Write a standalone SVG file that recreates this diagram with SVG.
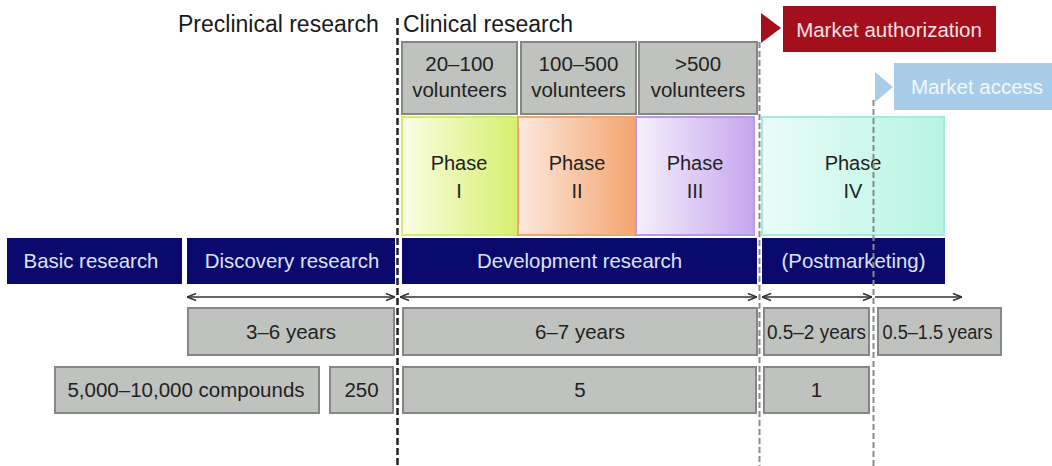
<svg xmlns="http://www.w3.org/2000/svg" width="1052" height="466" viewBox="0 0 1052 466">
  <style>
    text { font-family: "Liberation Sans", Arial, sans-serif; text-anchor: middle; }
    .head { font-size: 23px; fill: #1a1a1a; text-anchor: start; }
    .lbl { font-size: 20.5px; fill: #222; }
    .bar { fill: #0a0a6e; }
    .barText { font-size: 20.4px; fill: #dfe3f2; }
    .grey { fill: #c0c2bf; stroke: #858784; stroke-width: 2; }
    .phase { font-size: 20px; fill: #222; }
    .divBlack { stroke: #222; stroke-width: 2.5; stroke-dasharray: 7 3; fill: none; }
    .divGrey { stroke: #8a8a8a; stroke-width: 2; stroke-dasharray: 6 3; fill: none; }
    .span { stroke: #333; stroke-width: 1.5; fill: none; marker-start: url(#head); marker-end: url(#head); }
  </style>
  <defs>
    <marker id="head" viewBox="0 0 10 10" refX="10" refY="5" markerWidth="10" markerHeight="10" markerUnits="userSpaceOnUse" orient="auto-start-reverse">
      <path d="M1,1.5 L10,5 L1,8.5" fill="none" stroke="#333" stroke-width="1.4"/>
    </marker>
    <linearGradient id="gI" x1="0" x2="1" y1="0" y2="0">
      <stop offset="0" stop-color="#fbfde6"/>
      <stop offset="1" stop-color="#d6ef6c"/>
    </linearGradient>
    <linearGradient id="gII" x1="0" x2="1" y1="0" y2="0">
      <stop offset="0" stop-color="#fde9df"/>
      <stop offset="1" stop-color="#f3a46e"/>
    </linearGradient>
    <linearGradient id="gIII" x1="0" x2="1" y1="0" y2="0">
      <stop offset="0" stop-color="#f6f0fc"/>
      <stop offset="1" stop-color="#c6a6ee"/>
    </linearGradient>
    <linearGradient id="gIV" x1="0" x2="1" y1="0" y2="0">
      <stop offset="0" stop-color="#eafcf8"/>
      <stop offset="1" stop-color="#b7f4e3"/>
    </linearGradient>
  </defs>

  <!-- section headings -->
  <text class="head" x="178" y="32">Preclinical research</text>
  <text class="head" x="403" y="32">Clinical research</text>

  <!-- milestone flags -->
  <g id="market-authorization">
    <polygon points="761,13 781,28 761,43" fill="#a30f1d"/>
    <rect x="783" y="6" width="213" height="46" fill="#a30f1d"/>
    <text x="889" y="37" class="lbl" style="fill:#f6e3e3">Market authorization</text>
  </g>
  <g id="market-access">
    <polygon points="875,72 893,87 875,102" fill="#a9cde9"/>
    <rect x="894" y="63" width="158" height="47" fill="#a9cde9"/>
    <text x="977" y="94" class="lbl" style="fill:#f4f8fc">Market access</text>
  </g>

  <!-- volunteer counts -->
  <g id="vol-1">
    <rect class="grey" x="402" y="42" width="115" height="72"/>
    <text class="lbl" x="459.5" y="71">20–100</text>
    <text class="lbl" x="459.5" y="97">volunteers</text>
  </g>
  <g id="vol-2">
    <rect class="grey" x="521" y="42" width="115" height="72"/>
    <text class="lbl" x="578.5" y="71">100–500</text>
    <text class="lbl" x="578.5" y="97">volunteers</text>
  </g>
  <g id="vol-3">
    <rect class="grey" x="639" y="42" width="118" height="72"/>
    <text class="lbl" x="698" y="71">&gt;500</text>
    <text class="lbl" x="698" y="97">volunteers</text>
  </g>

  <!-- clinical phases -->
  <g id="phase-1">
    <rect x="402" y="117" width="116" height="118" fill="url(#gI)" stroke="#d3ea74" stroke-width="2"/>
    <text class="phase" x="459" y="170">Phase</text>
    <text class="phase" x="459" y="198">I</text>
  </g>
  <g id="phase-2">
    <rect x="518" y="117" width="118" height="118" fill="url(#gII)" stroke="#f0a774" stroke-width="2"/>
    <text class="phase" x="577" y="170">Phase</text>
    <text class="phase" x="577" y="198">II</text>
  </g>
  <g id="phase-3">
    <rect x="636" y="117" width="118" height="118" fill="url(#gIII)" stroke="#b99be6" stroke-width="2"/>
    <text class="phase" x="695" y="170">Phase</text>
    <text class="phase" x="695" y="198">III</text>
  </g>
  <g id="phase-4">
    <rect x="762" y="117" width="182" height="118" fill="url(#gIV)" stroke="#a5ebd9" stroke-width="2"/>
    <text class="phase" x="853" y="170">Phase</text>
    <text class="phase" x="853" y="198">IV</text>
  </g>

  <!-- research stages -->
  <g id="basic-research">
    <rect class="bar" x="7" y="238" width="175" height="46"/>
    <text class="barText" x="91" y="268">Basic research</text>
  </g>
  <g id="discovery-research">
    <rect class="bar" x="187" y="238" width="208" height="46"/>
    <text class="barText" x="292" y="268">Discovery research</text>
  </g>
  <g id="development-research">
    <rect class="bar" x="402" y="238" width="355" height="46"/>
    <text class="barText" x="579.5" y="268">Development research</text>
  </g>
  <g id="postmarketing">
    <rect class="bar" x="762" y="238" width="183" height="46"/>
    <text class="barText" x="853.5" y="268">(Postmarketing)</text>
  </g>

  <!-- durations -->
  <g id="dur-discovery">
    <rect class="grey" x="188" y="308" width="206" height="47"/>
    <text class="lbl" x="291" y="339">3–6 years</text>
  </g>
  <g id="dur-development">
    <rect class="grey" x="403" y="308" width="354" height="47"/>
    <text class="lbl" x="580" y="339">6–7 years</text>
  </g>
  <g id="dur-authorization">
    <rect class="grey" x="764" y="308" width="105" height="47"/>
    <text class="lbl" x="816.5" y="339" textLength="99" lengthAdjust="spacingAndGlyphs">0.5–2 years</text>
  </g>
  <g id="dur-access">
    <rect class="grey" x="878" y="308" width="123" height="47"/>
    <text class="lbl" x="937.5" y="339" textLength="110" lengthAdjust="spacingAndGlyphs">0.5–1.5 years</text>
  </g>

  <!-- compound counts -->
  <g id="cmp-screened">
    <rect class="grey" x="55" y="367" width="264" height="46"/>
    <text class="lbl" x="186" y="397">5,000–10,000 compounds</text>
  </g>
  <g id="cmp-250">
    <rect class="grey" x="330" y="367" width="63" height="46"/>
    <text class="lbl" x="361.5" y="397">250</text>
  </g>
  <g id="cmp-5">
    <rect class="grey" x="403" y="367" width="353" height="46"/>
    <text class="lbl" x="580" y="397">5</text>
  </g>
  <g id="cmp-1">
    <rect class="grey" x="764" y="367" width="105" height="46"/>
    <text class="lbl" x="816.5" y="397">1</text>
  </g>

  <!-- connectors: stage dividers and duration spans -->
  <g id="connectors">
    <line class="divBlack" x1="397.5" y1="18" x2="397.5" y2="466"/>
    <line class="divGrey" x1="759.5" y1="42" x2="759.5" y2="466"/>
    <line class="divGrey" x1="873.5" y1="100" x2="873.5" y2="466"/>
    <line class="span" x1="187" y1="297" x2="395" y2="297"/>
    <line class="span" x1="400" y1="297" x2="757" y2="297"/>
    <line class="span" x1="762" y1="297" x2="872" y2="297"/>
    <line class="span" x1="875" y1="297" x2="962" y2="297" style="marker-start:none"/>
  </g>
</svg>
